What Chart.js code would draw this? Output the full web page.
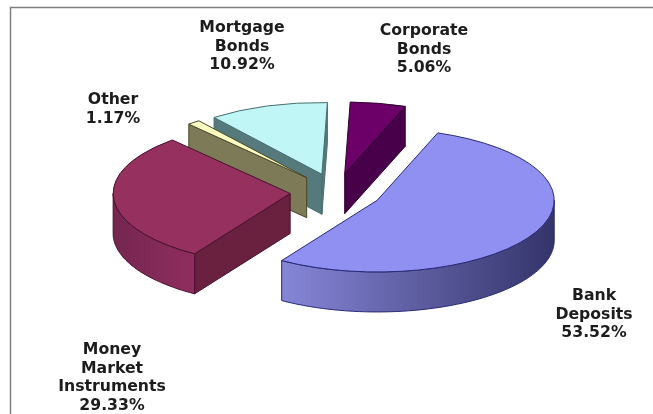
<!DOCTYPE html>
<html><head><meta charset="utf-8">
<script src="https://cdn.jsdelivr.net/npm/chart.js@4"></script>
<style>html,body{margin:0;padding:0;background:#fff}#w{width:653px;height:414px;position:relative}canvas{display:block;filter:blur(.4px)}</style>
</head><body><div id="w"><canvas id="c" width="653" height="414"></canvas></div>
<script>
const categories = ['Bank Deposits','Money Market Instruments','Other','Mortgage Bonds','Corporate Bonds'];
const shares = [53.52,29.33,1.17,10.92,5.06];
const labelLines = [['Bank','Deposits'],['Money','Market','Instruments'],['Other'],['Mortgage','Bonds'],['Corporate','Bonds']];
const topColors = ['#9090f2','#95305f','#fcfcc0','#c0f6f6','#6c0068'];
const faceColors = ['#3a3a72','#6a2140','#7d7a58','#56797c','#470049'];
const edgeColors = ['#2a2a78','#4a1030','#4a4728','#4a6e70','#300030'];
const wallStops = [['#8686d8','#34346a'],['#742650','#902e5e'],['#7d7a58','#7d7a58'],['#56797c','#56797c'],['#470049','#470049']];
const drawOrder = [3,2,1,4,0];
const labelX = [594,112,113,242,424];
const labelY = [296,350,100,28,31];
const lineGap = 18.6;
const squash = 0.405, depth = 40, explode = 46, cx = 336, cy = 192;

const pie3d = {
  id:'pie3d',
  beforeDraw(chart){
    const x = chart.ctx;
    x.save();
    x.fillStyle='#fff'; x.fillRect(0,0,653,414);
    x.strokeStyle='#808080'; x.lineWidth=1.5;
    x.beginPath(); x.moveTo(10.5,414); x.lineTo(10.5,7.5); x.lineTo(653,7.5); x.stroke();
    x.restore();
  },
  beforeDatasetDraw(chart){
    const ctx = chart.ctx, arcs = chart.getDatasetMeta(0).data;
    const place = (el,dy)=>{
      const mid=(el.startAngle+el.endAngle)/2;
      ctx.translate(cx+Math.cos(mid)*explode, cy+dy+Math.sin(mid)*explode*squash);
      ctx.scale(1,squash);
      ctx.translate(-el.x,-el.y);
    };
    const pt=(el,a,dy,r)=>{
      const mid=(el.startAngle+el.endAngle)/2;
      return [cx+Math.cos(mid)*explode+Math.cos(a)*r, cy+dy+(Math.sin(mid)*explode+Math.sin(a)*r)*squash];
    };
    const face=(el,a,i)=>{
      const R=el.outerRadius,p=[pt(el,a,0,0),pt(el,a,0,R),pt(el,a,depth,R),pt(el,a,depth,0)];
      ctx.beginPath();p.forEach((q,k)=>k?ctx.lineTo(q[0],q[1]):ctx.moveTo(q[0],q[1]));ctx.closePath();
      ctx.fillStyle=faceColors[i];ctx.fill();ctx.strokeStyle=edgeColors[i];ctx.lineWidth=1;ctx.stroke();
    };
    const wall=(el,i)=>{
      const R=el.outerRadius;
      let a0=Math.atan2(Math.sin(el.startAngle),Math.cos(el.startAngle)), a1=a0+(el.endAngle-el.startAngle);
      const lo=Math.max(a0,0), hi=Math.min(a1,Math.PI);
      if(hi<=lo) return;
      const n=60,top=[],bot=[];
      for(let k=0;k<=n;k++){const a=lo+(hi-lo)*k/n;top.push(pt(el,a,0,R));bot.push(pt(el,a,depth,R));}
      const xs=top.map(q=>q[0]),g=ctx.createLinearGradient(Math.min(...xs),0,Math.max(...xs),0);
      g.addColorStop(0,wallStops[i][0]);g.addColorStop(1,wallStops[i][1]);
      ctx.beginPath();top.forEach((q,k)=>k?ctx.lineTo(q[0],q[1]):ctx.moveTo(q[0],q[1]));
      bot.reverse().forEach(q=>ctx.lineTo(q[0],q[1]));ctx.closePath();
      ctx.fillStyle=g;ctx.fill();ctx.strokeStyle=edgeColors[i];ctx.lineWidth=1;ctx.stroke();
    };
    drawOrder.forEach(i=>{
      const el=arcs[i];
      if(Math.cos(el.startAngle)<0) face(el,el.startAngle,i);
      if(Math.cos(el.endAngle)>0) face(el,el.endAngle,i);
      wall(el,i);
      ctx.save();place(el,0);el.draw(ctx);ctx.restore();
      ctx.save();place(el,0);ctx.beginPath();ctx.moveTo(el.x,el.y);
      ctx.arc(el.x,el.y,el.outerRadius,el.startAngle,el.endAngle);ctx.closePath();ctx.restore();
      ctx.strokeStyle=edgeColors[i];ctx.lineWidth=1;ctx.stroke();
    });
    return false;
  },
  afterDatasetsDraw(chart){
    const ctx=chart.ctx;
    ctx.save();ctx.font='bold 15.7px "DejaVu Sans"';ctx.fillStyle='#1c1c1c';ctx.textAlign='center';ctx.textBaseline='middle';
    categories.forEach((c,i)=>{
      const lines=labelLines[i].concat(shares[i].toFixed(2)+'%');
      lines.forEach((t,k)=>ctx.fillText(t,labelX[i],labelY[i]+k*lineGap));
    });
    ctx.restore();
  }
};

new Chart(document.getElementById('c'),{
  type:'pie',
  data:{labels:categories,datasets:[{data:shares,backgroundColor:topColors,borderWidth:0}]},
  options:{responsive:false,animation:false,rotation:20,
    layout:{padding:{left:20,top:30,bottom:30}},
    plugins:{legend:{display:false},tooltip:{enabled:false}}},
  plugins:[pie3d]
});
</script></body></html>
